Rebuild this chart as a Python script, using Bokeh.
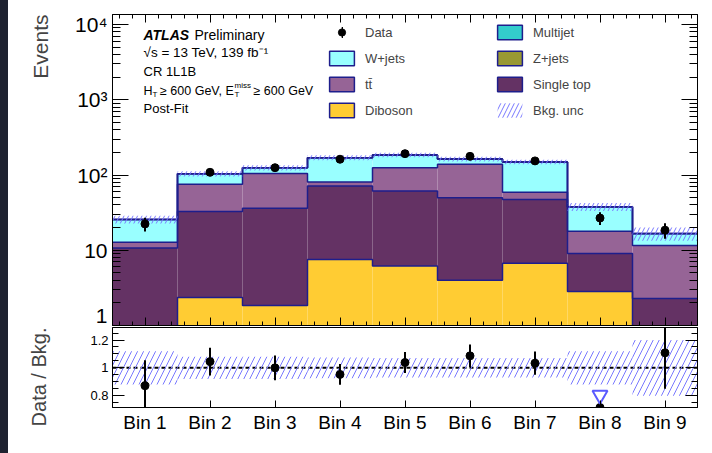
import numpy as np
from bokeh.plotting import figure
from bokeh.models import (LogAxis, LinearAxis, FixedTicker, Range1d, Label, Legend,
                          LegendItem, Span, Title, Div, ColumnDataSource)
from bokeh.layouts import column, row
from bokeh.embed import file_html
from bokeh.resources import INLINE

# ---------------- data ----------------
bin_labels = ["Bin 1", "Bin 2", "Bin 3", "Bin 4", "Bin 5", "Bin 6", "Bin 7", "Bin 8", "Bin 9"]
diboson    = [0.4, 2.36, 1.85, 7.52, 6.18, 3.98, 6.71, 2.84, 0.5]
single_top = [10.3, 30.4, 34.2, 63.8, 55.0, 45.8, 40.7, 6.2, 1.79]
ttbar      = [2.1, 42.4, 69.0, 9.4, 63.8, 89.2, 11.4, 8.86, 9.31]
wjets      = [12.75, 28.5, 19.7, 88.9, 59.6, 23.7, 89.8, 19.75, 4.96]
zjets      = [0.1, 0.2, 0.2, 0.3, 0.3, 0.2, 0.3, 0.1, 0.1]
multijet   = [0.05, 0.08, 0.06, 0.1, 0.09, 0.07, 0.08, 0.05, 0.04]
data       = [22.4, 108.6, 125.0, 162.0, 192.0, 177.0, 154.0, 26.8, 18.5]
data_err   = [4.7, 10.4, 11.2, 12.7, 13.9, 13.3, 12.4, 5.2, 4.3]
bkg_rel_unc = [0.12, 0.08, 0.08, 0.075, 0.07, 0.07, 0.07, 0.12, 0.2]

log_ticks = [1, 10, 100, 1000, 10000]
log_tick_labels = ["1", "10", "10²", "10³", "10⁴"]
ratio_ticks = [0.8, 1.0, 1.2]
ratio_tick_labels = ["0.8", "1", "1.2"]

FONT = "Liberation Sans"
NAVY = "#1e1e8c"
HATCH = "#7878ff"
colors = {
    "Diboson": "#ffcc33", "Single top": "#643264", "tt̄": "#966496",
    "W+jets": "#99ffff", "Z+jets": "#999933", "Multijet": "#33cccc",
}

x = np.arange(1, len(bin_labels) + 1, dtype=float)
left = x - 0.5
right = x + 0.5
edges = np.append(left, right[-1])

stack = [("Diboson", diboson), ("Single top", single_top), ("tt̄", ttbar),
         ("W+jets", wjets), ("Z+jets", zjets), ("Multijet", multijet)]

minor_x = [round(c + d, 2) for c in x for d in (-0.4, -0.2, 0.2, 0.4)]
log_minor = [m * 10 ** e for e in range(0, 4) for m in range(2, 10)]
ratio_minor = [0.75, 0.85, 0.9, 0.95, 1.05, 1.1, 1.15, 1.25]


def style_axis(ax, maj_in, min_in, size="19px", show=True):
    ax.major_tick_in = maj_in
    ax.major_tick_out = 0
    ax.minor_tick_in = min_in
    ax.minor_tick_out = 0
    ax.axis_line_color = "black"
    ax.major_tick_line_color = "black"
    ax.minor_tick_line_color = "black"
    ax.major_label_text_font = FONT
    ax.major_label_text_color = "black"
    if show:
        ax.major_label_text_font_size = size
    else:
        ax.major_label_text_font_size = "0px"
        ax.major_label_standoff = 0


def spacer_axis(axis_cls, tick, width):
    """An invisible axis that only reserves horizontal room in the left border."""
    ax = axis_cls(ticker=FixedTicker(ticks=[tick], minor_ticks=[]),
                  major_label_overrides={tick: " "})
    ax.axis_line_color = None
    ax.major_tick_line_color = None
    ax.minor_tick_line_color = None
    ax.major_tick_in = 0
    ax.major_tick_out = 0
    ax.minor_tick_in = 0
    ax.minor_tick_out = 0
    ax.major_label_text_font_size = "1px"
    ax.major_label_standoff = width
    return ax


def screen_label(fig, px, py, text, size="13px", style="normal"):
    fig.add_layout(Label(x=px, y=py, x_units="screen", y_units="screen", text=text,
                         text_font=FONT, text_font_size=size, text_font_style=style,
                         text_baseline="middle", text_color="black"))


# ---------------- main panel ----------------
x_range = Range1d(0.5, 9.5)
p1 = figure(width=704, height=326, y_axis_type="log", x_range=x_range,
            y_range=Range1d(1, 10 ** 4.133), output_backend="svg",
            toolbar_location=None, min_border_left=104, min_border_right=15,
            min_border_top=14, min_border_bottom=1)
p1.xgrid.visible = False
p1.ygrid.visible = False
p1.outline_line_color = "black"
p1.background_fill_color = "white"
p1.border_fill_color = "white"

# cumulative stack
cum = np.zeros(len(x))
base = 1e-3
layers = []
for name, vals in stack:
    bottom = np.where(cum > 0, cum, base)
    top = cum + np.array(vals)
    layers.append((name, bottom, top))
    cum = top
total = cum
unc = np.array(bkg_rel_unc)
d = np.array(data)
e = np.array(data_err)

# legend-key renderers: zero-size quads (only their legend keys show)
legend_keys = {}
for name, bottom, top in layers:
    legend_keys[name] = p1.quad(left=x, right=x, bottom=top, top=top,
                                fill_color=colors[name], line_color=NAVY, line_width=1.5)
bar_key = p1.quad(left=x, right=x, bottom=d - e, top=d + e, fill_color="black",
                  line_color=None)

for name, bottom, top in layers:
    p1.quad(left=left, right=right, bottom=bottom, top=top,
            fill_color=colors[name], line_color=None)
for name, bottom, top in layers:
    p1.step(x=edges, y=np.append(top, top[-1]), mode="after",
            line_color=NAVY, line_width=1.5)

band_main = p1.quad(left=left, right=right, bottom=total * (1 - unc), top=total * (1 + unc),
                    fill_color=None, line_color=None, hatch_pattern="/",
                    hatch_color=HATCH, hatch_scale=9, hatch_weight=1)

p1.segment(x0=x, y0=d - e, x1=x, y1=d + e, line_color="black", line_width=2)
data_r = p1.scatter(x=x, y=d, size=8, color="black")

# axes
p1.yaxis.ticker = FixedTicker(ticks=log_ticks, minor_ticks=log_minor)
p1.yaxis.major_label_overrides = dict(zip(log_ticks, log_tick_labels))
style_axis(p1.yaxis[0], 16, 8, size="21px")
p1.yaxis.major_label_standoff = 5

ra = LogAxis(ticker=FixedTicker(ticks=log_ticks, minor_ticks=log_minor),
             major_label_overrides={t: "" for t in log_ticks})
style_axis(ra, 16, 8, show=False)
p1.add_layout(ra, "right")

p1.xaxis.ticker = FixedTicker(ticks=list(x), minor_ticks=minor_x)
p1.xaxis.major_label_overrides = {float(t): "" for t in x}
style_axis(p1.xaxis[0], 8, 4, show=False)

ta = LinearAxis(ticker=FixedTicker(ticks=list(x), minor_ticks=minor_x),
                major_label_overrides={float(t): "" for t in x})
style_axis(ta, 8, 4, show=False)
p1.add_layout(ta, "above")

p1.add_layout(spacer_axis(LogAxis, 100, 16), "left")
p1.add_layout(Title(text="Events", align="right", text_font_size="21px",
                    text_font_style="normal", text_font=FONT, standoff=4), "left")

# legend
items = [
    LegendItem(label="Data", renderers=[data_r]),
    LegendItem(label="W+jets", renderers=[legend_keys["W+jets"]]),
    LegendItem(label="tt̄", renderers=[legend_keys["tt̄"]]),
    LegendItem(label="Diboson", renderers=[legend_keys["Diboson"]]),
    LegendItem(label="Multijet", renderers=[legend_keys["Multijet"]]),
    LegendItem(label="Z+jets", renderers=[legend_keys["Z+jets"]]),
    LegendItem(label="Single top", renderers=[legend_keys["Single top"]]),
    LegendItem(label="Bkg. unc", renderers=[band_main]),
]
leg = Legend(items=items, location=(214, 206), orientation="vertical", nrows=4,
             glyph_width=31, glyph_height=18, label_standoff=8, spacing=8,
             padding=0, margin=0, label_width=121, label_height=18,
             label_text_font_size="13px", label_text_font=FONT,
             background_fill_alpha=0, border_line_alpha=0)
p1.add_layout(leg)

leg2 = Legend(items=[LegendItem(label=" ", renderers=[bar_key])], location=(229, 286),
              glyph_width=2, glyph_height=14, label_standoff=0, padding=0, margin=0,
              label_width=0, label_height=14, label_text_font_size="1px",
              background_fill_alpha=0, border_line_alpha=0)
p1.add_layout(leg2)

# text block
screen_label(p1, 31, 291, "ATLAS", "14px", "bold italic")
screen_label(p1, 82, 291, "Preliminary", "14px")
screen_label(p1, 31, 273, "√s = 13 TeV, 139 fb⁻¹", "13.5px")
screen_label(p1, 31, 254, "CR 1L1B")
screen_label(p1, 31, 235, "H", "12.5px")
screen_label(p1, 40, 231, "T", "8px")
screen_label(p1, 47.5, 235, "≥ 600 GeV, E", "12.5px")
screen_label(p1, 122, 231, "T", "8px")
screen_label(p1, 122, 240, "miss", "8px")
screen_label(p1, 141, 235, "≥ 600 GeV", "12.5px")
screen_label(p1, 31, 217, "Post-Fit")

# ---------------- ratio panel ----------------
rmin, rmax = 0.715, 1.29
p2 = figure(width=704, height=127, x_range=x_range, y_range=Range1d(rmin, rmax),
            output_backend="svg", toolbar_location=None, min_border_left=104,
            min_border_right=15, min_border_top=1, min_border_bottom=46)
p2.xgrid.visible = False
p2.ygrid.visible = False
p2.outline_line_color = "black"
p2.border_fill_color = "white"

p2.quad(left=left, right=right, bottom=1 - unc, top=1 + unc, fill_color=None,
        line_color=None, hatch_pattern="/", hatch_color=HATCH, hatch_scale=12,
        hatch_weight=1)
p2.add_layout(Span(location=1.0, dimension="width", line_color="black",
                   line_dash="4 3", line_width=2, level="underlay"))

ratio = d / total
ratio_err = e / total
inr = ratio >= rmin
src_in = ColumnDataSource(dict(x=x[inr], r=ratio[inr], lo=(ratio - ratio_err)[inr],
                               hi=(ratio + ratio_err)[inr]))
p2.segment(x0="x", y0="lo", x1="x", y1="hi", source=src_in, line_color="black", line_width=2)
p2.scatter(x="x", y="r", source=src_in, size=8, color="black")
out = ~inr
p2.scatter(x=x[out], y=np.full(out.sum(), rmin), size=8, color="black")
p2.scatter(x=x[out], y=np.full(out.sum(), rmin + 0.09), marker="inverted_triangle",
           size=15, fill_color=None, line_color="#5a5aff", line_width=2)

p2.yaxis.ticker = FixedTicker(ticks=ratio_ticks, minor_ticks=ratio_minor)
p2.yaxis.major_label_overrides = dict(zip(ratio_ticks, ratio_tick_labels))
style_axis(p2.yaxis[0], 12, 6, size="13px")
p2.yaxis.major_label_standoff = 4

ra2 = LinearAxis(ticker=FixedTicker(ticks=ratio_ticks, minor_ticks=ratio_minor),
                 major_label_overrides={t: "" for t in ratio_ticks})
style_axis(ra2, 12, 6, show=False)
p2.add_layout(ra2, "right")

p2.add_layout(spacer_axis(LinearAxis, 1.0, 33), "left")
p2.add_layout(Title(text="Data / Bkg.", align="right", text_font_size="20px",
                    text_font_style="normal", text_font=FONT, standoff=4), "left")

p2.xaxis.ticker = FixedTicker(ticks=list(x), minor_ticks=[])
p2.xaxis.major_label_overrides = {float(t): l for t, l in zip(x, bin_labels)}
style_axis(p2.xaxis[0], 7, 0, size="19px")
p2.xaxis.major_label_standoff = 4

strip = Div(text="", width=8, height=453, margin=0,
            styles={"background-color": "#1e2230"})
layout = row(strip, column(p1, p2, spacing=0, margin=0), spacing=0, margin=0)

open("out.html", "w").write(file_html(layout, INLINE))
